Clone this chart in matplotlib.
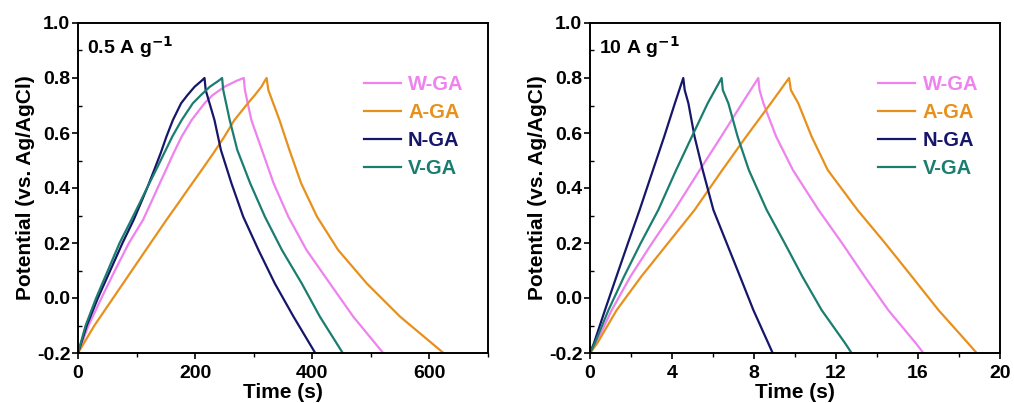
import numpy as np
import matplotlib
matplotlib.use("Agg")
import matplotlib.pyplot as plt
from matplotlib.ticker import MultipleLocator

plt.rcParams['font.family'] = ['Liberation Sans', 'DejaVu Sans']
plt.rcParams['font.weight'] = 'bold'

# ---- data ----
names = ['W-GA', 'A-GA', 'N-GA', 'V-GA']
colors = ['#EE82EE', '#E8901C', '#16166A', '#1B7D70']

# 0.5 A/g panel: charge branch (potential levels, time per sample)
chg_v_05 = [-0.2, -0.1, 0.0, 0.1, 0.2, 0.284, 0.344, 0.405, 0.465, 0.526,
            0.587, 0.647, 0.708, 0.738, 0.768, 0.79, 0.8]
chg_t_05 = {
    'N-GA': [0, 15, 34, 55, 76, 95, 107, 119, 130, 141, 151, 162, 176, 187, 199, 211, 216],
    'V-GA': [0, 13, 31, 51, 71, 91, 105, 119, 133, 147, 161, 177, 196, 210, 225, 240, 246],
    'W-GA': [0, 18, 40, 63, 87, 111, 124, 137, 150, 163, 177, 194, 216, 230, 250, 271, 283],
    'A-GA': [0, 28, 60, 92, 124, 151, 171, 191, 211, 231, 250, 267, 290, 302, 313, 319, 322],
}
# 0.5 A/g panel: discharge branch
dis_v_05 = [0.8, 0.756, 0.647, 0.538, 0.417, 0.296, 0.175, 0.053, -0.068, -0.2]
dis_t_05 = {
    'N-GA': [216, 218, 233, 244, 262, 282, 308, 336, 368, 405],
    'V-GA': [246, 248, 259, 272, 294, 319, 348, 382, 413, 452],
    'W-GA': [283, 285, 296, 314, 334, 359, 390, 430, 470, 521],
    'A-GA': [322, 325, 344, 361, 381, 408, 444, 493, 550, 624],
}

# 10 A/g panel: charge branch
chg_v_10 = [-0.2, -0.165, -0.044, 0.078, 0.199, 0.32, 0.465, 0.587, 0.708, 0.8]
chg_t_10 = {
    'N-GA': [0, 0.19, 0.73, 1.29, 1.85, 2.42, 3.07, 3.62, 4.14, 4.55],
    'V-GA': [0, 0.23, 0.90, 1.66, 2.47, 3.33, 4.20, 4.97, 5.74, 6.42],
    'W-GA': [0, 0.29, 1.06, 1.97, 3.02, 4.12, 5.35, 6.40, 7.42, 8.21],
    'A-GA': [0, 0.35, 1.30, 2.50, 3.80, 5.10, 6.45, 7.62, 8.82, 9.71],
}
# 10 A/g panel: discharge branch
dis_v_10 = [0.8, 0.756, 0.708, 0.587, 0.465, 0.32, 0.199, 0.078, -0.044, -0.165, -0.2]
dis_t_10 = {
    'N-GA': [4.55, 4.62, 4.80, 5.10, 5.50, 6.02, 6.67, 7.32, 7.97, 8.70, 8.91],
    'V-GA': [6.42, 6.48, 6.75, 7.20, 7.75, 8.62, 9.50, 10.36, 11.30, 12.45, 12.76],
    'W-GA': [8.21, 8.27, 8.46, 9.08, 9.90, 11.15, 12.30, 13.40, 14.55, 15.90, 16.26],
    'A-GA': [9.71, 9.80, 10.16, 10.81, 11.60, 13.05, 14.40, 15.70, 17.00, 18.45, 18.86],
}

panels = [
    dict(label='0.5 A g$^{\\mathbf{-1}}$', cv=chg_v_05, ct=chg_t_05, dv=dis_v_05, dt=dis_t_05,
         xlim=(0, 700), major=200, minor=100, legx=0.697,
         rect=[78/1014, 50/403, 410/1014, 330/403]),
    dict(label='10 A g$^{\\mathbf{-1}}$', cv=chg_v_10, ct=chg_t_10, dv=dis_v_10, dt=dis_t_10,
         xlim=(0, 20), major=4, minor=2, legx=0.703,
         rect=[590/1014, 50/403, 410/1014, 330/403]),
]

fig = plt.figure(figsize=(10.14, 4.03), dpi=100)

for p in panels:
    ax = fig.add_axes(p['rect'])
    for name, col in zip(names, colors):
        t = list(p['ct'][name]) + list(p['dt'][name])[1:]
        v = list(p['cv']) + list(p['dv'])[1:]
        ax.plot(t, v, color=col, lw=1.6, label=name)

    ax.set_xlim(*p['xlim'])
    ax.xaxis.set_major_locator(MultipleLocator(p['major']))
    ax.xaxis.set_minor_locator(MultipleLocator(p['minor']))
    yt = np.arange(-0.2, 1.01, 0.2)
    ax.set_yticks(yt)
    ax.set_yticklabels([f'{y:.1f}' for y in yt])
    ax.yaxis.set_minor_locator(MultipleLocator(0.1))
    ax.set_ylim(-0.2, 1.0)
    ax.tick_params(axis='both', which='major', labelsize=14, length=4, width=1.2, direction='out', pad=1.5)
    ax.tick_params(axis='x', which='major', pad=5)
    ax.tick_params(axis='x', which='minor', length=3, width=1.0, direction='out')
    ax.tick_params(axis='y', which='minor', length=3, width=1.0, direction='in')
    for lbl in ax.get_xticklabels() + ax.get_yticklabels():
        lbl.set_fontweight('bold')
    for s in ax.spines.values():
        s.set_linewidth(1.4)

    ax.set_xlabel('Time (s)', fontsize=15, fontweight='bold', labelpad=0)
    ax.set_ylabel('Potential (vs. Ag/AgCl)', fontsize=15, fontweight='bold', labelpad=1)
    ax.text(0.022, 0.927, p['label'], transform=ax.transAxes, fontsize=14,
            fontweight='bold', va='center', ha='left')

    leg = ax.legend(loc='upper left', bbox_to_anchor=(p['legx'], 0.842), frameon=False,
                    fontsize=14.5, handlelength=1.85, handletextpad=0.35,
                    labelspacing=0.45, borderaxespad=0, borderpad=0)
    for txt, col in zip(leg.get_texts(), colors):
        txt.set_color(col)
        txt.set_fontweight('bold')

fig.savefig('out.png', dpi=100)
